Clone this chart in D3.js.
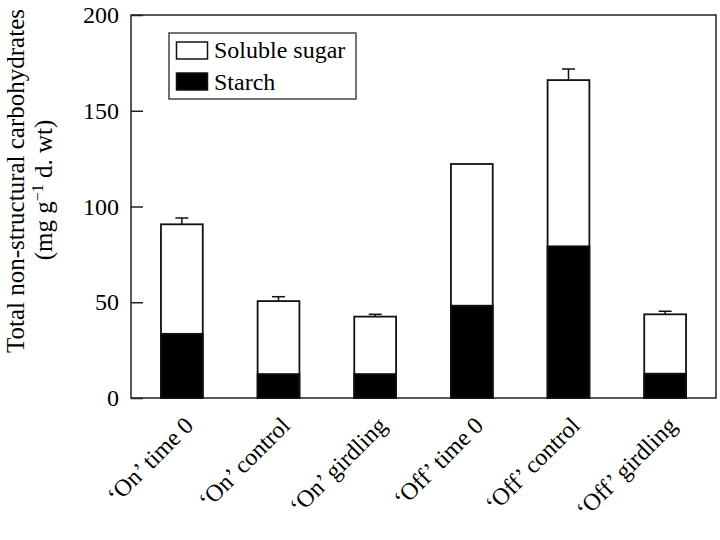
<!DOCTYPE html>
<html><head><meta charset="utf-8">
<script src="https://cdn.jsdelivr.net/npm/d3@7"></script>
<style>body{margin:0;background:#fff}svg{display:block}text{font-family:"Liberation Serif","Times New Roman",serif;fill:#000}</style>
</head><body>
<script>
const categories = ["\u2018On\u2019 time 0","\u2018On\u2019 control","\u2018On\u2019 girdling","\u2018Off\u2019 time 0","\u2018Off\u2019 control","\u2018Off\u2019 girdling"];
const starch = [33.5, 12.5, 12.5, 48.2, 79.2, 12.7];
const total = [90.7, 50.6, 42.5, 122.2, 166, 43.7];
const errTop = [94, 52.9, 43.7, 122.2, 171.8, 45.3];
const yTicks = [0, 50, 100, 150, 200];
const seriesNames = ["Soluble sugar", "Starch"];

const W = 720, H = 540;
const pLeft = 131, pRight = 716, pTop = 15, pBottom = 398;
const svg = d3.select("body").append("svg").attr("width", W).attr("height", H);

const x = d3.scaleBand().domain(categories).range([pLeft, pRight]).paddingInner(0.5675).paddingOuter(0.31);
const y = d3.scaleLinear().domain([0, 200]).range([pBottom, pTop]);

// frame
svg.append("rect").attr("x", pLeft).attr("y", pTop).attr("width", pRight-pLeft).attr("height", pBottom-pTop)
  .attr("fill", "none").attr("stroke", "#222").attr("stroke-width", 1.5);

// y axis ticks (inward) & labels
const yAxis = d3.axisLeft(y).tickValues(yTicks).tickSizeInner(-12).tickSizeOuter(0).tickPadding(13);
const gy = svg.append("g").attr("transform", `translate(${pLeft},0)`).call(yAxis);
gy.select(".domain").remove();
gy.selectAll(".tick line").attr("stroke", "#222").attr("stroke-width", 1.5);
gy.selectAll(".tick text").attr("font-size", 24).attr("font-family", "Liberation Serif").attr("fill", "#000").attr("x", -12);

// bars
const g = svg.append("g");
categories.forEach((c, i) => {
  const bx = x(c), bw = x.bandwidth();
  if (errTop[i] > total[i] + 0.5) {
    const cx = bx + bw/2;
    g.append("line").attr("x1", cx).attr("x2", cx).attr("y1", y(total[i])).attr("y2", y(errTop[i])).attr("stroke", "#111").attr("stroke-width", 1.5);
    g.append("line").attr("x1", cx-6.5).attr("x2", cx+6.5).attr("y1", y(errTop[i])).attr("y2", y(errTop[i])).attr("stroke", "#111").attr("stroke-width", 1.5);
  }
  g.append("rect").attr("x", bx).attr("y", y(total[i])).attr("width", bw).attr("height", y(0)-y(total[i]))
    .attr("fill", "#fff").attr("stroke", "#111").attr("stroke-width", 1.8);
  g.append("rect").attr("x", bx).attr("y", y(starch[i])).attr("width", bw).attr("height", y(0)-y(starch[i]))
    .attr("fill", "#000").attr("stroke", "#111").attr("stroke-width", 1.8);
});

// x labels
categories.forEach((c, i) => {
  const cx = x(c) + x.bandwidth()/2 + 13;
  svg.append("text").attr("transform", `translate(${cx},427) rotate(-45)`)
    .attr("text-anchor", "end").attr("font-size", 24).text(c);
});

// y title
svg.append("text").attr("transform", "translate(24,181) rotate(-90)").attr("text-anchor", "middle")
  .attr("font-size", 25).text("Total non-structural carbohydrates");
const t2 = svg.append("text").attr("transform", "translate(52,190) rotate(-90)").attr("text-anchor", "middle").attr("font-size", 25);
t2.append("tspan").text("(mg g");
t2.append("tspan").attr("font-size", 16).attr("dy", -9).text("\u22121");
t2.append("tspan").attr("dy", 9).text(" d. wt)");

// legend
const lg = svg.append("g");
lg.append("rect").attr("x", 169).attr("y", 33).attr("width", 187).attr("height", 66).attr("fill", "#fff").attr("stroke", "#444").attr("stroke-width", 1.5);
const fills = ["#fff", "#000"];
seriesNames.forEach((s, i) => {
  lg.append("rect").attr("x", 176.5).attr("y", 42 + i*31).attr("width", 31).attr("height", 17)
    .attr("fill", fills[i]).attr("stroke", "#111").attr("stroke-width", 1.5);
  lg.append("text").attr("x", 214).attr("y", 58 + i*31.5).attr("font-size", 24).text(s);
});
</script>
</body></html>
